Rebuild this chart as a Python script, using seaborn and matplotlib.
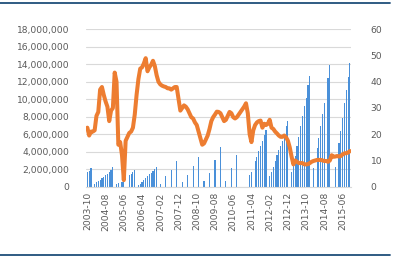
import numpy as np
import pandas as pd
import matplotlib
matplotlib.use("Agg")
import matplotlib.pyplot as plt
from matplotlib.lines import Line2D
from matplotlib.ticker import FuncFormatter, MultipleLocator
import seaborn as sns

# ---- data ----
months = [str(p) for p in pd.period_range("2003-10", "2015-10", freq="M")]
N = None
# year-to-date cumulative volume (left axis), monthly; None = not reported
volume = [
    1.7e6, 1.8e6, 2.1e6,                                              # 2003-10..12
    N, 0.3e6, 0.5e6, 0.65e6, 0.8e6, 1.0e6, 1.15e6, 1.3e6, 1.5e6, 1.7e6, 1.9e6, 2.3e6,   # 2004
    N, 0.35e6, 0.45e6, N, 0.5e6, 0.65e6, N, N, 1.3e6, 1.5e6, 1.7e6, 1.9e6,            # 2005
    N, 0.2e6, 0.35e6, 0.5e6, 0.8e6, 1.0e6, 1.2e6, 1.4e6, 1.6e6, 1.75e6, 2.0e6, 2.2e6, # 2006
    N, 0.3e6, N, N, 1.2e6, N, N, 1.9e6, N, N, 2.9e6, N,                          # 2007
    N, 0.5e6, N, N, 1.3e6, N, N, 2.4e6, N, N, 3.4e6, N,                          # 2008
    N, 0.7e6, N, N, 1.6e6, N, N, 3.05e6, N, N, 4.55e6, N,                        # 2009
    N, 0.7e6, N, N, 2.1e6, N, N, 3.6e6, N, N, N, N,                              # 2010
    N, N, 1.3e6, 1.7e6, N, 2.9e6, 3.4e6, 4.1e6, 4.7e6, 5.2e6, 5.9e6, 6.5e6,      # 2011
    N, 1.2e6, 1.7e6, 2.3e6, 2.9e6, 3.6e6, 4.2e6, 4.7e6, 5.2e6, 5.8e6, 6.9e6, 7.5e6,   # 2012
    N, 1.7e6, 2.5e6, 3.5e6, 4.6e6, 5.7e6, 6.9e6, 8.1e6, 9.2e6, 10.2e6, 11.6e6, 12.7e6, # 2013
    N, 2.1e6, N, 4.4e6, 5.6e6, 6.9e6, 8.3e6, 9.6e6, N, 12.4e6, 13.9e6, N,        # 2014
    N, 2.2e6, N, 5.0e6, 6.4e6, 7.9e6, 9.6e6, 11.1e6, 12.5e6, 14.1e6,             # 2015-01..10
]
# ratio (right axis)
ratio = [
    22.5, 19.5, 21.0,
    21.0, 21.5, 27.0, 28.5, 37.0, 38.0, 35.0, 32.5, 30.5, 25.0, 29.0, 30.0,
    43.5, 40.0, 16.0, 17.0, 12.0, 2.5, 17.5, 19.0, 20.5, 21.0, 22.5, 27.5,
    35.0, 41.0, 45.0, 45.5, 47.0, 49.0, 44.0, 45.5, 46.5, 48.0, 46.0, 42.5,
    40.0, 39.0, 38.5, 38.2, 38.0, 37.5, 37.5, 37.0, 37.5, 38.0, 38.0, 33.5,
    29.0, 30.0, 31.0, 30.5, 29.5, 28.0, 26.5, 26.0, 24.5, 23.5, 21.0, 18.5,
    16.0, 16.5, 18.0, 19.5, 22.0, 25.0, 26.5, 27.5, 28.6, 28.5, 28.0, 26.5,
    25.0, 25.5, 27.0, 28.5, 28.0, 26.5, 26.0, 26.5, 27.5, 28.5, 29.5, 30.5,
    31.8, 28.0, 20.0, 17.0, 21.5, 23.5, 24.5, 25.0, 25.2, 22.5, 24.0, 23.5,
    24.0, 25.5, 22.5, 22.0, 21.0, 20.3, 19.5, 19.0, 19.0, 19.5, 18.8, 17.5,
    15.0, 11.5, 8.5, 10.0, 9.5, 9.0, 9.0, 9.0, 8.5, 8.5, 8.6, 9.0,
    9.5, 9.8, 10.0, 10.2, 10.2, 10.2, 10.0, 9.8, 9.8, 9.5, 10.0, 12.0,
    11.4, 11.5, 11.7, 11.5, 11.7, 12.3, 12.7, 12.8, 13.0, 13.6,
]
tick_labels = ["2003-10", "2004-08", "2005-06", "2006-04", "2007-02", "2007-12",
               "2008-10", "2009-08", "2010-06", "2011-04", "2012-02", "2012-12",
               "2013-10", "2014-08", "2015-06"]

df = pd.DataFrame({"month": months,
                   "volume": pd.Series(volume, dtype="float"),
                   "ratio": ratio})
df["idx"] = np.arange(len(df))

# ---- plot ----
sns.set_style("white")
plt.rcParams["font.family"] = ["DejaVu Sans"]
fig = plt.figure(figsize=(4.06, 2.58), dpi=100)
ax = fig.add_axes([0.212, 0.2764, 0.653, 0.61])

txt = "#595959"
grid = "#d9d9d9"

sns.barplot(data=df, x="month", y="volume", order=months,
            width=0.62, color="#4a90d9", saturation=1, linewidth=0,
            errorbar=None, ax=ax, zorder=2)
ax.set_xlim(-0.7, len(df) - 0.3)
ax.set_ylim(0, 18e6)
ax.yaxis.set_major_locator(MultipleLocator(2e6))
ax.yaxis.set_major_formatter(FuncFormatter(lambda v, p: f"{int(v):,}"))
ax.grid(axis="y", color=grid, lw=0.8, zorder=0)
ax.set_axisbelow(True)
for s in ["top", "right", "left"]:
    ax.spines[s].set_visible(False)
ax.spines["bottom"].set_color(grid)
ax.set_xticks(np.arange(0, len(df), 10))
ax.set_xticklabels(tick_labels, rotation=90)
ax.tick_params(axis="x", length=0, pad=4, labelsize=6.6, colors=txt)
ax.tick_params(axis="y", length=0, pad=12, labelsize=6.6, colors=txt)
ax.set_xlabel("")
ax.set_ylabel("")

ax2 = ax.twinx()
sns.lineplot(data=df, x="idx", y="ratio", color="#ED7D31", lw=2.9, ax=ax2)
ax2.set_ylim(0, 60)
ax2.yaxis.set_major_locator(MultipleLocator(10))
for s in ["top", "right", "left", "bottom"]:
    ax2.spines[s].set_visible(False)
ax2.tick_params(axis="y", length=0, pad=14, labelsize=6.6, colors=txt)
ax2.set_ylabel("")
ax2.set_xlabel("")
ax2.set_xlim(ax.get_xlim())

# top / bottom rules
rule = "#1f4e79"
fig.add_artist(Line2D([0, 390 / 406], [1 - 3.3 / 258] * 2, color=rule, lw=1.3))
fig.add_artist(Line2D([0, 390 / 406], [1 - 255 / 258] * 2, color=rule, lw=1.3))

fig.savefig("out.png", dpi=100, facecolor="white")
